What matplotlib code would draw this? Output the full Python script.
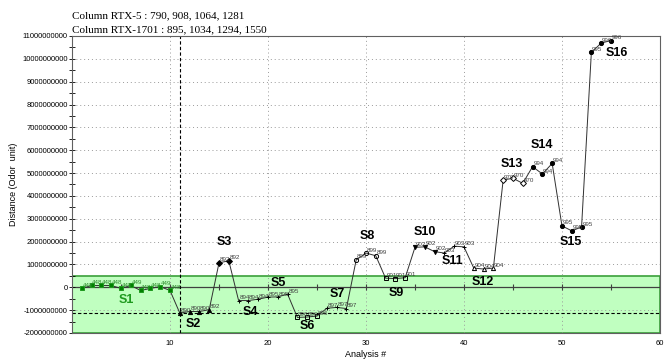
import matplotlib
matplotlib.use("Agg")
import matplotlib.pyplot as plt
from matplotlib.ticker import FuncFormatter, MultipleLocator

# segments and their points (analysis #, distance in units of 1e9)
segments = ['S1', 'S2', 'S3', 'S4', 'S5', 'S6', 'S7', 'S8',
            'S9', 'S10', 'S11', 'S12', 'S13', 'S14', 'S15', 'S16']
seg_size = [10, 4, 2, 3, 3, 3, 3, 3, 3, 3, 3, 3, 3, 3, 3, 3]
distance = [-0.05, 0.08, 0.08, 0.08, -0.05, 0.08, -0.14, -0.05, 0.03, -0.14,
            -1.13, -1.06, -1.06, -0.98,
            1.07, 1.16,
            -0.58, -0.58, -0.52,
            -0.43, -0.42, -0.30,
            -1.32, -1.30, -1.26,
            -0.92, -0.88, -0.93,
            1.20, 1.50, 1.38,
            0.40, 0.38, 0.42,
            1.75, 1.77, 1.56,
            1.50, 1.80, 1.77,
            0.84, 0.80, 0.84,
            4.70, 4.77, 4.55,
            5.28, 4.96, 5.42,
            2.69, 2.47, 2.64,
            10.28, 10.69, 10.80]
codes = ['448', '448', '448', '448', '448', '449', '448', '448', '449', '448',
         '890', '890', '890', '892',
         '892', '892',
         '894', '894', '894',
         '895', '895', '895',
         '896', '896', '896',
         '897', '897', '897',
         '899', '899', '899',
         '901', '901', '901',
         '902', '902', '902',
         '903', '903', '903',
         '904', '904', '904',
         '970', '970', '970',
         '994', '994', '994',
         '995', '995', '995',
         '995', '996', '996']
analysis = list(range(1, len(distance) + 1))

# segment name label positions (analysis #, distance 1e9)
seg_lab_x = [5.5, 12.4, 15.5, 18.2, 21.1, 24.0, 27.1, 30.1,
             33.1, 36.0, 38.8, 41.9, 44.9, 48.0, 50.9, 55.6]
seg_lab_y = [-0.55, -1.6, 2.0, -1.07, 0.2, -1.68, -0.28, 2.25,
             -0.24, 2.42, 1.16, 0.24, 5.39, 6.22, 1.99, 10.24]

seg_marker = ['s', '^', 'D', '+', '+', 's', '+', 'o',
              's', 'v', '+', '^', 'D', 'o', 'o', 'o']
seg_fill = ['green', 'black', 'black', 'black', 'black', 'none', 'black', 'none',
            'none', 'black', 'black', 'white', 'white', 'black', 'black', 'black']

E = 1e9
ys = [v * E for v in distance]

fig = plt.figure(figsize=(6.7, 3.61), dpi=100)
ax = fig.add_axes([0.1075, 0.0776, 0.8775, 0.8227])

ax.set_xlim(0, 60)
ax.set_ylim(-2 * E, 11 * E)

# green acceptance band
ax.axhspan(-2 * E, 0.5 * E, facecolor='#c0ffc0', edgecolor='#3aa03a', lw=1.2, zorder=0)
ax.axhline(0, color='#404040', lw=0.9, zorder=1)
ax.axhline(-1.13 * E, color='black', lw=0.8, ls=(0, (3, 2)), zorder=1)
ax.axvline(11, color='black', lw=0.8, ls=(0, (3, 2)), zorder=1)

# dotted grid
for g in range(-1, 11):
    ax.axhline(g * E, color='#9a9a9a', lw=0.7, ls=(0, (1, 3)), zorder=0.5)
for g in range(10, 60, 10):
    ax.axvline(g, color='#9a9a9a', lw=0.7, ls=(0, (1, 3)), zorder=0.5)

# little ticks along the zero line
ax.plot(list(range(5, 60, 5)), [0] * 11, ls='none', marker='|', ms=4,
        color='#404040', mew=0.8, zorder=1)

ax.plot(analysis, ys, color='#303030', lw=0.7, zorder=2)

start = 0
for i, name in enumerate(segments):
    n = seg_size[i]
    xs = analysis[start:start + n]
    yy = ys[start:start + n]
    col = '#1f9a1f' if name == 'S1' else 'black'
    ax.plot(xs, yy, ls='none', marker=seg_marker[i], ms=3,
            mfc=seg_fill[i], mec=col, mew=0.7, zorder=3)
    for x, y, c in zip(xs, yy, codes[start:start + n]):
        ax.annotate(c, (x, y), xytext=(0.5, 1), textcoords='offset points',
                    fontsize=4.5, color='#2a8a2a' if name == 'S1' else '#404040',
                    family='Liberation Sans')
    ax.text(seg_lab_x[i], seg_lab_y[i] * E, name, ha='center', va='center',
            fontsize=9, fontweight='bold', color=col, family='Liberation Sans')
    start += n

ax.yaxis.set_major_locator(MultipleLocator(E))
ax.yaxis.set_minor_locator(MultipleLocator(0.5 * E))
ax.yaxis.set_major_formatter(FuncFormatter(lambda v, p: '%d' % round(v)))
ax.set_xticks([10, 20, 30, 40, 50, 60])
ax.tick_params(axis='y', which='both', direction='inout', length=4, width=0.6,
               labelsize=5.5, pad=1)
ax.tick_params(axis='x', direction='in', length=0, labelsize=5.5, pad=5)
for lab in ax.get_xticklabels() + ax.get_yticklabels():
    lab.set_family('Liberation Sans')

for s in ax.spines.values():
    s.set_color('#606060')
    s.set_linewidth(0.8)

ax.set_xlabel('Analysis #', fontsize=6.5, family='Liberation Sans', labelpad=2)
ax.set_ylabel('Distance (Odor  unit)', fontsize=6.5, family='Liberation Sans', labelpad=3)

fig.text(0.1075, 0.955, 'Column RTX-5 : 790, 908, 1064, 1281',
         fontsize=8, family='Liberation Serif', va='center')
fig.text(0.1075, 0.918, 'Column RTX-1701 : 895, 1034, 1294, 1550',
         fontsize=8, family='Liberation Serif', va='center')

fig.savefig('out.png', dpi=100)
